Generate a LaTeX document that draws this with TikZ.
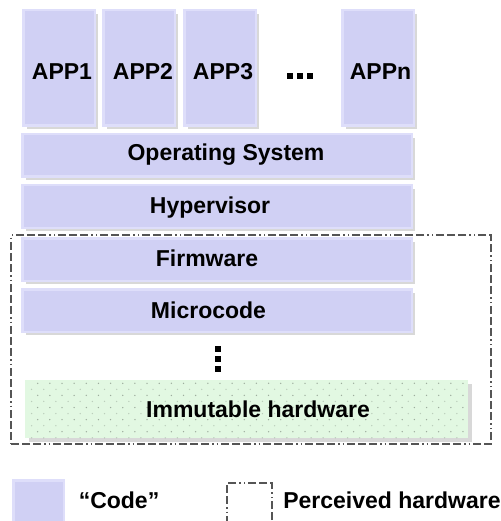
\documentclass[tikz,border=0pt]{standalone}
\usepackage{fontspec}
\setmainfont{Liberation Sans}
\usetikzlibrary{shadows}

\definecolor{codefill}{RGB}{208,208,244}
\definecolor{codeedge}{RGB}{222,222,250}
\definecolor{shade}{RGB}{216,216,216}
\definecolor{hwfill}{RGB}{226,248,226}
\definecolor{hwdot}{RGB}{150,165,150}
\definecolor{framecol}{RGB}{85,85,85}

\begin{document}
\begin{tikzpicture}[x=1pt,y=-1pt,
  codebox/.style 2 args={rectangle, draw=codeedge, fill=codefill, line width=2.5pt,
    inner sep=0pt, minimum width=#1, minimum height=#2},
  shadowed/.style={drop shadow={shadow xshift=3.5pt, shadow yshift=-3.5pt,
    fill=shade, opacity=1}},
  hwbox/.style 2 args={rectangle, fill=hwfill, inner sep=0pt,
    minimum width=#1, minimum height=#2},
  perceived/.style={draw=framecol, line width=1.1pt,
    dash pattern=on 8pt off 3pt on 8pt off 3pt on 8pt off 3pt on 1.5pt off 3pt on 1.5pt off 3pt},
  lbl/.style={anchor=base, inner sep=0pt, font=\bfseries\fontsize{23}{27}\selectfont},
  dotmark/.style={fill=black},
]
\useasboundingbox (0,0) rectangle (500,521);
\clip (0,0) rectangle (500,521);

% application boxes
\node[codebox={71.5pt}{115.5pt}, shadowed] (app1) at (59,68) {};
\node[codebox={71.5pt}{115.5pt}, shadowed] (app2) at (139,68) {};
\node[codebox={71.5pt}{115.5pt}, shadowed] (app3) at (220,68) {};
\node[codebox={71.5pt}{115.5pt}, shadowed] (appn) at (378,68) {};
\node[lbl] (t1) at (62,80) {APP1};
\node[lbl] (t2) at (143,80) {APP2};
\node[lbl] (t3) at (223,80) {APP3};
\node[lbl] (tn) at (380.5,80) {APPn};

% horizontal ellipsis between the applications
\foreach \x in {287,297,307}
  \fill[dotmark] (\x,73) rectangle ++(6,6);

% software / firmware layers
\node[codebox={389.5pt}{42.5pt}, shadowed] (os) at (217,155.5) {};
\node[codebox={389.5pt}{42.5pt}, shadowed] (hyp) at (217,206.5) {};
\node[codebox={389.5pt}{42.5pt}, shadowed] (fw) at (217,259.5) {};
\node[codebox={389.5pt}{42.5pt}, shadowed] (mc) at (217,310.5) {};
\node[lbl] (tos) at (226,161) {Operating System};
\node[lbl] (thyp) at (210,213) {Hypervisor};
\node[lbl] (tfw) at (207,266) {Firmware};
\node[lbl] (tmc) at (208.5,318) {Microcode};

% vertical ellipsis
\foreach \y in {346,356,366}
  \fill[dotmark] (215,\y) rectangle ++(6,6);

% immutable hardware with dotted fill
\node[hwbox={443pt}{58pt}, shadowed] (hw) at (246.5,409) {};
\begin{scope}
  \clip (hw.north west) rectangle (hw.south east);
  \foreach \r in {0,...,9} {
    \pgfmathsetmacro{\yy}{383.3+6.05*\r}
    \pgfmathsetmacro{\xo}{ifthenelse(mod(\r,2)==0,37.7,31.6)}
    \pgfmathsetmacro{\op}{ifthenelse(mod(\r,2)==0,0.9,0.5)}
    \foreach \k in {0,...,37}
      \fill[hwdot, opacity=\op] (\xo+12.15*\k,\yy) circle (0.75pt);
  }
\end{scope}
\node[lbl] (thw) at (258,417) {Immutable hardware};

% perceived hardware frame
\node[rectangle, perceived, inner sep=0pt, minimum width=480pt, minimum height=209pt]
  (frame) at (251,339.5) {};

% legend
\node[codebox={50.5pt}{50.5pt}] (legcode) at (38.5,505.5) {};
\node[lbl] (tcode) at (119,508) {“Code”};
\node[rectangle, perceived, inner sep=0pt, minimum width=45pt, minimum height=45pt]
  (legframe) at (249.5,505.5) {};
\node[lbl] (tperc) at (392,508) {Perceived hardware};
\end{tikzpicture}
\end{document}
